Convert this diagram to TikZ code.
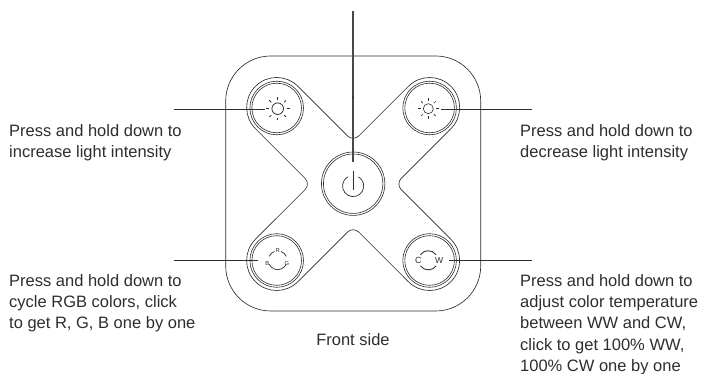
\documentclass[tikz,border=0pt]{standalone}
\usepackage{fontspec}
\setmainfont{Liberation Sans}
\definecolor{ink}{HTML}{2E2E2E}
\definecolor{stem}{HTML}{484848}
\tikzset{
  outline/.style={draw=ink,line width=0.65pt},
  ring/.style={circle,draw=ink,line width=0.6pt,inner sep=0pt,outer sep=0pt},
  leader/.style={draw=ink,line width=0.95pt},
  icon/.style={draw=ink,line width=0.7pt},
  note/.style={anchor=north west,inner sep=0pt,align=left,text=ink,font=\fontsize{16.5}{21.3}\selectfont},
  tiny/.style={inner sep=0pt,text=ink}
}
\begin{document}
\begin{tikzpicture}[x=1pt,y=1pt]
\useasboundingbox (0,0) rectangle (704,374);
\fill[white] (0,0) rectangle (704,374);
% housing
\draw[outline,rounded corners=45pt] (225.7,63) rectangle (480.7,318);
% X outline
\begin{scope}[shift={(353.15,190)}]
\draw[outline] (-97.7,55.3) arc[start angle=225,end angle=45,radius=30]
 -- (-5.66,48.08) arc[start angle=225,end angle=315,radius=8]
 -- (55.3,97.7) arc[start angle=135,end angle=-45,radius=30]
 -- (48.08,5.66) arc[start angle=135,end angle=225,radius=8]
 -- (97.7,-55.3) arc[start angle=45,end angle=-135,radius=30]
 -- (5.66,-48.08) arc[start angle=45,end angle=135,radius=8]
 -- (-55.3,-97.7) arc[start angle=-45,end angle=-225,radius=30]
 -- (-48.08,-5.66) arc[start angle=-45,end angle=45,radius=8]
 -- cycle;
\end{scope}
% buttons
\foreach \n/\x/\y in {tl/276.7/266,tr/429.6/266,bl/276.7/113.5,br/429.6/113.5}{
  \node[ring,minimum size=53.6pt] (\n o) at (\x,\y) {};
  \node[ring,minimum size=49.6pt] (\n) at (\x,\y) {};
}
\node[ring,minimum size=63.4pt] (co) at (353.15,190.3) {};
\node[ring,minimum size=59.4pt] (c) at (353.15,190.3) {};
% sun, left
\node[ring,line width=0.8pt,minimum size=11.6pt] (suna) at (277.7,265.3) {};
\foreach \a in {0,45,...,315}
  \draw[icon,line width=0.8pt] (suna)++(\a:9) -- ++(\a:2.8);
% sun, right
\node[ring,minimum size=10pt] (sunb) at (428.3,265.3) {};
\foreach \a in {0,45,...,315}
  \draw[icon] (sunb)++(\a:7.8) -- ++(\a:2.6);
% power
\coordinate (pw) at (353.15,188);
\draw[icon] (pw)++(60:10.6) arc[start angle=60,end angle=-240,radius=10.6];
\coordinate (pwa) at (353.15,202.5);
\coordinate (pwb) at (353.15,184);
\draw[icon] (pwa) -- (pwb);
% RGB
\coordinate (rgb) at (277.7,113.7);
\draw[icon] (rgb)++(25:9.4) arc[start angle=25,end angle=70,radius=9.4];
\draw[icon] (rgb)++(110:9.4) arc[start angle=110,end angle=155,radius=9.4];
\draw[icon] (rgb)++(205:9.4) arc[start angle=205,end angle=335,radius=9.4];
\node[tiny,font=\fontsize{5.8}{5.8}\selectfont] (r) at (277.7,123) {R};
\node[tiny,font=\fontsize{5.8}{5.8}\selectfont] (g) at (287,110.3) {G};
\node[tiny,font=\fontsize{5.8}{5.8}\selectfont] (b) at (267.4,110.3) {B};
% CW
\coordinate (cw) at (428.3,113.7);
\draw[icon,line width=0.85pt] (cw)++(35:9.6) arc[start angle=35,end angle=145,radius=9.6];
\draw[icon,line width=0.85pt] (cw)++(215:9.6) arc[start angle=215,end angle=325,radius=9.6];
\node[tiny,font=\fontsize{9}{9}\selectfont] (cc) at (418.3,113.7) {C};
\node[tiny,font=\fontsize{8.6}{8.6}\selectfont] (ww) at (439.3,113.7) {W};
% leaders
\coordinate (la) at (174,265);   \coordinate (lae) at (265,265);
\coordinate (lb) at (532,265);   \coordinate (lbe) at (441,265);
\coordinate (lc) at (174,114);   \coordinate (lce) at (257.7,114);
\coordinate (ld) at (532,114);   \coordinate (lde) at (449,114);
\draw[leader] (la) -- (lae);
\draw[leader] (lb) -- (lbe);
\draw[leader] (lc) -- (lce);
\draw[leader] (ld) -- (lde);
\coordinate (top) at (353,363);
\coordinate (tope) at (353,211.5);
\draw[draw=stem,line width=1.2pt] (top) -- (tope);
\node[circle,fill=ink,inner sep=0pt,minimum size=2.4pt] (dot) at (353,276.5) {};
% notes
\node[note] (n1) at (9,250) {Press and hold down to\\increase light intensity};
\node[note] (n2) at (520,250) {Press and hold down to\\decrease light intensity};
\node[note] (n3) at (9,100) {Press and hold down to\\cycle RGB colors, click\\to get R, G, B one by one};
\node[note] (n4) at (520,100) {Press and hold down to\\adjust color temperature\\between WW and CW,\\click to get 100\% WW,\\100\% CW one by one};
\node[text=ink,inner sep=0pt,anchor=base,font=\fontsize{16.5}{21.3}\selectfont] (fs) at (353,28.7) {Front side};
\end{tikzpicture}
\end{document}
